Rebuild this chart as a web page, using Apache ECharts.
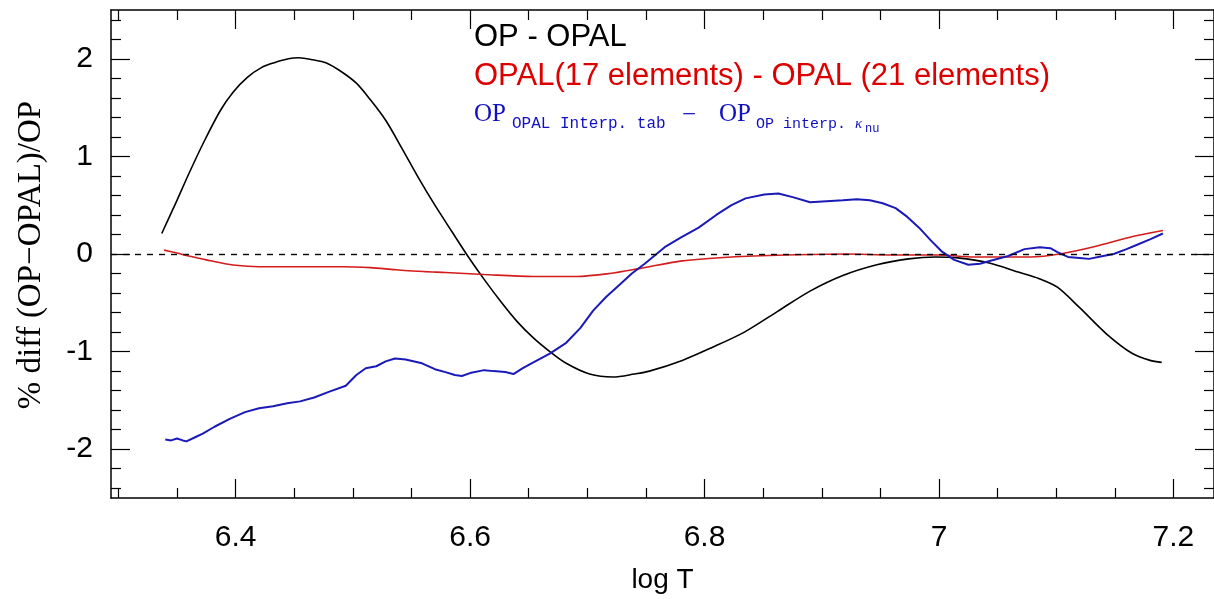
<!DOCTYPE html>
<html>
<head>
<meta charset="utf-8">
<title>OP - OPAL</title>
<script src="https://cdn.jsdelivr.net/npm/echarts@6/dist/echarts.min.js"></script>
<style>
  html, body { margin: 0; padding: 0; background: #fff; }
  #chart-container { width: 1214px; height: 599px; }
</style>
</head>
<body>
<div id="chart-container"></div>
<script>
// OP - OPAL (black)
var opOpalT = [6.337, 6.350, 6.360, 6.373, 6.387, 6.398, 6.410, 6.422, 6.433, 6.445, 6.454, 6.466, 6.477, 6.490,
  6.503, 6.515, 6.528, 6.542, 6.556, 6.570, 6.585, 6.598, 6.612, 6.627, 6.640, 6.654, 6.668, 6.682, 6.702, 6.722,
  6.740, 6.753, 6.781, 6.806, 6.834, 6.862, 6.890, 6.918, 6.947, 6.974, 6.997, 7.016, 7.042, 7.069, 7.085, 7.101,
  7.120, 7.143, 7.165, 7.180, 7.190];
var opOpalDiff = [0.21, 0.55, 0.82, 1.15, 1.47, 1.66, 1.81, 1.91, 1.96, 2.00, 2.01, 1.99, 1.96, 1.87,
  1.75, 1.58, 1.37, 1.08, 0.78, 0.50, 0.22, -0.02, -0.26, -0.50, -0.69, -0.86, -1.00, -1.12, -1.23, -1.26,
  -1.23, -1.20, -1.09, -0.96, -0.80, -0.59, -0.38, -0.22, -0.11, -0.05, -0.03, -0.04, -0.09, -0.19, -0.25, -0.34,
  -0.55, -0.82, -1.02, -1.09, -1.11];

// OPAL(17 elements) - OPAL(21 elements) (red)
var opalElT = [6.339, 6.350, 6.360, 6.375, 6.391, 6.405, 6.424, 6.460, 6.492, 6.515, 6.536, 6.560, 6.579, 6.612,
  6.654, 6.691, 6.719, 6.744, 6.781, 6.823, 6.870, 6.920, 6.960, 7.000, 7.030, 7.050, 7.078, 7.103, 7.134, 7.162, 7.191];
var opalElDiff = [0.04, 0.01, -0.02, -0.06, -0.10, -0.12, -0.13, -0.13, -0.13, -0.14, -0.16, -0.18, -0.19, -0.21,
  -0.23, -0.23, -0.20, -0.15, -0.07, -0.03, -0.01, 0.00, -0.01, -0.01, -0.03, -0.03, -0.03, 0.00, 0.08, 0.17, 0.24];

// OP(OPAL interp. tab) - OP(OP interp. kappa_nu) (blue)
var interpT = [6.340, 6.345, 6.350, 6.355, 6.358, 6.365, 6.372, 6.382, 6.395, 6.408, 6.420, 6.432, 6.444, 6.455,
  6.467, 6.480, 6.494, 6.503, 6.511, 6.520, 6.528, 6.536, 6.545, 6.559, 6.570, 6.579, 6.587, 6.593, 6.600, 6.612,
  6.620, 6.630, 6.637, 6.645, 6.654, 6.668, 6.682, 6.694, 6.705, 6.716, 6.728, 6.738, 6.749, 6.766, 6.780, 6.795,
  6.810, 6.823, 6.835, 6.851, 6.863, 6.876, 6.890, 6.904, 6.918, 6.930, 6.941, 6.952, 6.963, 6.973, 6.983, 6.993,
  7.002, 7.013, 7.025, 7.035, 7.044, 7.059, 7.073, 7.086, 7.095, 7.101, 7.110, 7.120, 7.128, 7.140, 7.149, 7.160,
  7.168, 7.180, 7.191];
var interpDiff = [-1.90, -1.91, -1.89, -1.91, -1.92, -1.88, -1.84, -1.77, -1.69, -1.62, -1.58, -1.56, -1.53, -1.51,
  -1.47, -1.41, -1.35, -1.24, -1.17, -1.15, -1.10, -1.07, -1.08, -1.12, -1.18, -1.21, -1.24, -1.25, -1.22, -1.19,
  -1.20, -1.21, -1.23, -1.17, -1.11, -1.02, -0.91, -0.76, -0.58, -0.44, -0.31, -0.20, -0.10, 0.07, 0.17, 0.27,
  0.40, 0.50, 0.57, 0.61, 0.62, 0.58, 0.53, 0.54, 0.55, 0.56, 0.55, 0.52, 0.47, 0.38, 0.27, 0.14,
  0.03, -0.06, -0.11, -0.10, -0.07, -0.02, 0.05, 0.07, 0.06, 0.02, -0.03, -0.04, -0.05, -0.02, 0.00, 0.05,
  0.09, 0.15, 0.21];

// axis ticks
var xMajor = [6.4, 6.6, 6.8, 7.0, 7.2];
var xMinor = [6.3, 6.35, 6.45, 6.5, 6.55, 6.65, 6.7, 6.75, 6.85, 6.9, 6.95, 7.05, 7.1, 7.15];
var yMajor = [-2, -1, 0, 1, 2];
var yMinor = [-2.4, -2.2, -1.8, -1.6, -1.4, -1.2, -0.8, -0.6, -0.4, -0.2, 0.2, 0.4, 0.6, 0.8,
  1.2, 1.4, 1.6, 1.8, 2.2, 2.4];

var X_MIN = 6.2937, X_MAX = 7.2346;
var Y_MIN = -2.5, Y_MAX = 2.5;

function zip(xs, ys) {
  return xs.map(function (x, i) { return [x, ys[i]]; });
}

var dom = document.getElementById('chart-container');
var myChart = echarts.init(dom, null, { renderer: 'canvas' });

var sans = 'Liberation Sans, Arial, sans-serif';
var serif = 'Liberation Serif, Times New Roman, serif';
var mono = 'Liberation Mono, Courier New, monospace';

function xAx(pos, ticks, len, showLine, showLabel) {
  var ax = {
    type: 'value', position: pos, min: X_MIN, max: X_MAX,
    axisLine: { show: showLine, onZero: false, lineStyle: { color: '#000', width: 1.5 } },
    axisTick: { show: true, inside: true, length: len, customValues: ticks, lineStyle: { color: '#000', width: 1.2 } },
    axisLabel: { show: false },
    splitLine: { show: false }
  };
  if (showLabel) {
    ax.axisLabel = {
      show: true, customValues: ticks, color: '#000', fontSize: 30, fontFamily: sans, margin: 25,
      formatter: function (v) { return String(Math.round(v * 10) / 10); }
    };
    ax.name = 'log T';
    ax.nameLocation = 'middle';
    ax.nameGap = 68;
    ax.nameTextStyle = { color: '#000', fontSize: 28, fontFamily: sans };
  }
  return ax;
}

function yAx(pos, ticks, len, showLine, showLabel) {
  var ax = {
    type: 'value', position: pos, min: Y_MIN, max: Y_MAX,
    axisLine: { show: showLine, onZero: false, lineStyle: { color: '#000', width: 1.5 } },
    axisTick: { show: true, inside: true, length: len, customValues: ticks, lineStyle: { color: '#000', width: 1.2 } },
    axisLabel: { show: false },
    splitLine: { show: false }
  };
  if (showLabel) {
    ax.axisLabel = {
      show: true, customValues: ticks, color: '#000', fontSize: 30, fontFamily: sans, margin: 18,
      padding: [10, 0, 0, 0]
    };
  }
  return ax;
}

var option = {
  animation: false,
  backgroundColor: '#fff',
  grid: { left: 111, right: -12, top: 10, bottom: 101, containLabel: false },
  xAxis: [
    xAx('bottom', xMajor, 19, true, true),
    xAx('bottom', xMinor, 10, false, false),
    xAx('top', xMajor, 19, true, false),
    xAx('top', xMinor, 10, false, false)
  ],
  yAxis: [
    yAx('left', yMajor, 19, true, true),
    yAx('left', yMinor, 10, false, false),
    yAx('right', yMajor, 19, true, false),
    yAx('right', yMinor, 10, false, false)
  ],
  graphic: [
    { type: 'text', x: 31, y: 255, rotation: Math.PI / 2,
      style: { text: '% diff (OP\u2212OPAL)/OP', fill: '#000', font: '33px ' + serif, align: 'center', verticalAlign: 'middle' } },
    { type: 'text', x: 474, y: 37,
      style: { text: 'OP - OPAL', fill: '#000', font: '31px ' + sans, align: 'left', verticalAlign: 'middle' } },
    { type: 'text', x: 474, y: 76,
      style: { text: 'OPAL(17 elements) - OPAL (21 elements)', fill: '#dd0000', font: '31px ' + sans, align: 'left', verticalAlign: 'middle' } },
    { type: 'text', x: 474, y: 114,
      style: { text: 'OP', fill: '#1010c0', font: '25px ' + serif, align: 'left', verticalAlign: 'middle' } },
    { type: 'text', x: 512, y: 124,
      style: { text: 'OPAL Interp. tab', fill: '#1010c0', font: '16px ' + mono, align: 'left', verticalAlign: 'middle' } },
    { type: 'text', x: 682, y: 115,
      style: { text: '\u2212', fill: '#1010c0', font: '25px ' + serif, align: 'left', verticalAlign: 'middle' } },
    { type: 'text', x: 719, y: 114,
      style: { text: 'OP', fill: '#1010c0', font: '25px ' + serif, align: 'left', verticalAlign: 'middle' } },
    { type: 'text', x: 756, y: 124,
      style: { text: 'OP interp. ', fill: '#1010c0', font: '15px ' + mono, align: 'left', verticalAlign: 'middle' } },
    { type: 'text', x: 855, y: 124,
      style: { text: '\u03ba', fill: '#1010c0', font: 'italic 15px ' + serif, align: 'left', verticalAlign: 'middle' } },
    { type: 'text', x: 865, y: 129,
      style: { text: 'nu', fill: '#1010c0', font: '12px ' + mono, align: 'left', verticalAlign: 'middle' } }
  ],
  series: [
    {
      name: 'OP - OPAL', type: 'line', xAxisIndex: 0, yAxisIndex: 0,
      data: zip(opOpalT, opOpalDiff), smooth: 0.3, showSymbol: false, silent: true,
      lineStyle: { color: '#000', width: 1.6 },
      markLine: {
        silent: true, symbol: 'none', label: { show: false },
        lineStyle: { color: '#000', width: 1.4, type: [6, 6] },
        data: [{ yAxis: 0 }]
      }
    },
    {
      name: 'OPAL(17 elements) - OPAL (21 elements)', type: 'line', xAxisIndex: 0, yAxisIndex: 0,
      data: zip(opalElT, opalElDiff), smooth: 0.3, showSymbol: false, silent: true,
      lineStyle: { color: '#d41c1c', width: 1.6 }
    },
    {
      name: 'OP interp', type: 'line', xAxisIndex: 0, yAxisIndex: 0,
      data: zip(interpT, interpDiff), smooth: false, showSymbol: false, silent: true,
      lineStyle: { color: '#1a1ab8', width: 2 }
    }
  ]
};

myChart.setOption(option);
window.addEventListener('resize', myChart.resize);
</script>
</body>
</html>
